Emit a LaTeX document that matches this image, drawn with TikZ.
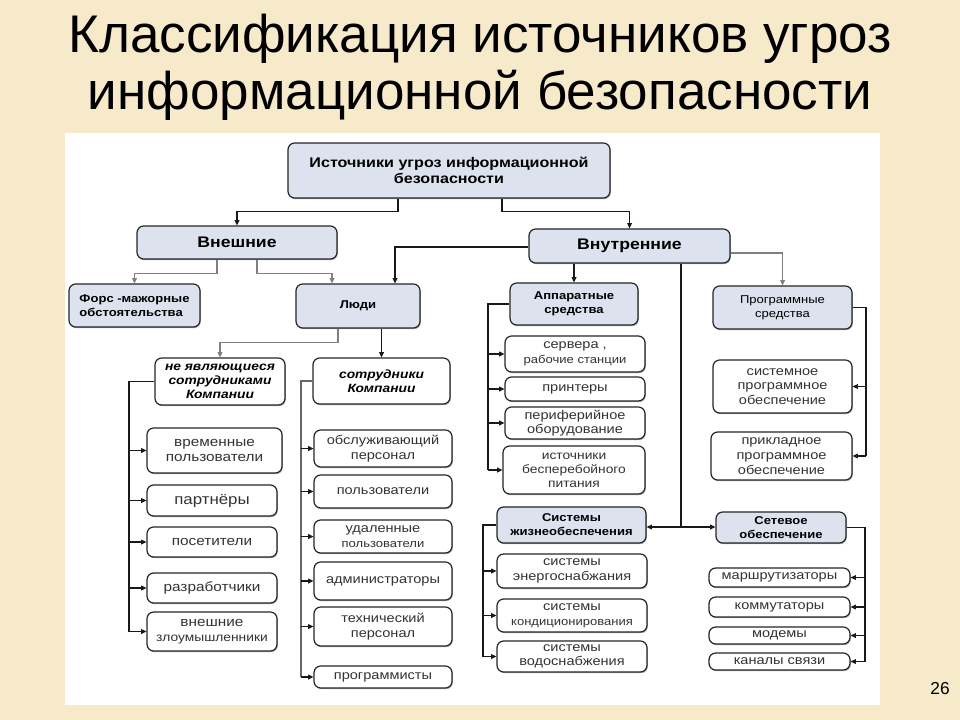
\documentclass[tikz,border=0pt]{standalone}
\usepackage{fontspec}
\setmainfont{Liberation Sans}
\newfontfamily\dgf[FakeStretch=1.15]{Liberation Sans}
\usetikzlibrary{arrows.meta,calc,shadows}
\definecolor{bgc}{HTML}{F6EACB}
\definecolor{hdrc}{HTML}{DCE3EE}
\begin{document}
\begin{tikzpicture}[x=0.75pt,y=-0.75pt,
  place/.style n args={4}{at={({(#1+#3)/2},{(#2+#4)/2})},minimum width={(#3-#1)*0.75pt},minimum height={(#4-#2)*0.75pt}},
  box/.style={rounded corners=5pt,draw=black!85,line width=0.9pt,align=center,inner sep=1pt,
    drop shadow={shadow xshift=0.6pt,shadow yshift=-0.9pt,fill=black!55,opacity=0.6}},
  hdrL/.style={box,fill=hdrc,font=\dgf\bfseries\fontsize{11.5}{13}\selectfont},
  hdrM/.style={box,fill=hdrc,font=\dgf\bfseries\fontsize{10.5}{12.5}\selectfont},
  hdrS/.style={box,fill=hdrc,font=\dgf\bfseries\fontsize{8.5}{10.5}\selectfont},
  grp/.style={box,fill=white,font=\dgf\bfseries\itshape\fontsize{9}{10.5}\selectfont},
  leaf/.style={box,fill=white,text=black!80,font=\dgf\fontsize{9.5}{11}\selectfont},
  leafL/.style={box,fill=white,text=black!80,font=\dgf\fontsize{10}{11.5}\selectfont},
  line/.style={draw=black!90,line width=0.9pt},
  conn/.style={line,-{Triangle[length=4pt,width=3.6pt]}},
  gconn/.style={conn,draw=black!50}]
\useasboundingbox (0,0) rectangle (960,720);
\fill[bgc] (0,0) rectangle (960,720);
\fill[white] (65,133) rectangle (880,705);

% title
\node (t1) [font=\fontsize{39.75}{44}\selectfont,anchor=base,inner sep=0pt] at (480,53) {Классификация источников угроз};
\node (t2) [font=\fontsize{39.75}{44}\selectfont,anchor=base,inner sep=0pt] at (480,110) {информационной безопасности};
\node (pg) [font=\fontsize{13}{15}\selectfont,anchor=base,inner sep=0pt] at (940,694) {26};

% headers
\node (top) [hdrM,place={288}{143}{610}{198}] {Источники угроз информационной\\безопасности};
\node (vn)  [hdrL,place={137}{226}{337}{259}] {Внешние};
\node (vin) [hdrL,place={529}{229}{730}{263}] {Внутренние};
\node (fm)  [hdrS,place={69}{284}{200}{327},align=left] {Форс -мажорные\\обстоятельства};
\node (ld)  [hdrS,place={296}{284}{420}{328}] {Люди};
\node (ne)  [grp,place={155}{358}{285}{405}] {не являющиеся\\сотрудниками\\Компании};
\node (so)  [grp,place={313}{358}{450}{404}] {сотрудники\\Компании};
\node (ap)  [hdrS,place={510}{283}{638}{325}] {Аппаратные\\средства};
\node (pr)  [hdrS,place={713}{286}{852}{329},font=\dgf\fontsize{8.5}{10.5}\selectfont] {Программные\\средства};
\node (sys) [hdrS,place={497}{507}{646}{543}] {Системы\\жизнеобеспечения};
\node (set) [hdrS,place={716}{512}{846}{543}] {Сетевое\\обеспечение};

% left column
\node (c1) [leafL,place={147}{428}{282}{473}] {временные\\пользователи};
\node (c2) [leafL,place={147}{485}{277}{516},font=\dgf\fontsize{11}{12}\selectfont] {партнёры};
\node (c3) [leafL,place={147}{527}{277}{557}] {посетители};
\node (c4) [leafL,place={147}{573}{277}{603}] {разработчики};
\node (c5) [leafL,place={147}{612}{277}{651}] {внешние\\{\fontsize{9}{10}\selectfont злоумышленники}};

% employees
\node (d1) [leaf,place={314}{430}{452}{467}] {обслуживающий\\персонал};
\node (d2) [leaf,place={314}{475}{452}{508}] {пользователи};
\node (d3) [leaf,place={314}{520}{452}{553}] {удаленные\\{\fontsize{8.5}{9.5}\selectfont пользователи}};
\node (d4) [leaf,place={314}{562}{452}{600}] {администраторы};
\node (d5) [leaf,place={314}{607}{452}{646}] {технический\\персонал};
\node (d6) [leaf,place={314}{666}{452}{688}] {программисты};

% hardware
\node (a1) [leaf,place={505}{336}{645}{372}] {сервера ,\\{\fontsize{8.5}{9.5}\selectfont рабочие станции}};
\node (a2) [leaf,place={505}{377}{645}{401}] {принтеры};
\node (a3) [leaf,place={505}{407}{645}{439}] {периферийное\\оборудование};
\node (a4) [leaf,place={503}{446}{645}{494},font=\dgf\fontsize{9}{10.5}\selectfont] {источники\\бесперебойного\\питания};

% life support
\node (e1) [leaf,place={497}{554}{647}{588}] {системы\\энергоснабжания};
\node (e2) [leaf,place={497}{599}{647}{632}] {системы\\{\fontsize{8.5}{9.5}\selectfont кондиционирования}};
\node (e3) [leaf,place={497}{641}{647}{672}] {системы\\водоснабжения};

% software
\node (s1) [leaf,place={713}{360}{852}{413}] {системное\\программное\\обеспечение};
\node (s2) [leaf,place={711}{432}{852}{480}] {прикладное\\программное\\обеспечение};

% network
\node (n1) [leaf,place={709}{568}{850}{587}] {маршрутизаторы};
\node (n2) [leaf,place={709}{597}{850}{617}] {коммутаторы};
\node (n3) [leaf,place={709}{627}{850}{644}] {модемы};
\node (n4) [leaf,place={709}{653}{850}{670}] {каналы связи};

% bus coordinates
\coordinate (bL) at (129,0);
\coordinate (bR) at (301,0);
\coordinate (bA) at (488,0);
\coordinate (bS) at (483,0);
\coordinate (bP) at (866,0);
\coordinate (bN) at (865,0);
\coordinate (mid) at (681,527);

% connectors
\draw[conn] ($(top.south)+(-51,0)$) -- ++(0,13) -| (vn.north);
\draw[conn] ($(top.south)+(53,0)$) -- ++(0,13) -| (vin.north);
\draw[gconn] ($(vn.south)+(-20,0)$) -- ++(0,14) -| (fm.north);
\draw[gconn] ($(vn.south)+(20,0)$) -- ++(0,14) -| ($(ld.north)+(-26,0)$);
\draw[conn] ($(vin.west)+(0,1)$) -| ($(ld.north)+(37,0)$);
\draw[gconn] ($(ld.south)+(-20,0)$) -- ++(0,14) -| (ne.north);
\draw[conn] (ld.south -| so.north) -- (so.north);

\draw[line] (ne.west) -| (bL |- c5.west);
\foreach \c in {c1,c2,c3,c4,c5} \draw[conn] (bL |- \c.west) -- (\c.west);
\draw[line,draw=black!60] (so.west) -| (bR |- d6.west);
\foreach \c in {d1,d2,d3,d4,d5,d6} \draw[conn] (bR |- \c.west) -- (\c.west);

\draw[conn] (vin.south -| ap.north) -- (ap.north);
\draw[line] (vin.south -| mid) -- (mid);
\draw[conn] (mid) -- (mid -| sys.east);
\draw[conn] (mid) -- (mid -| set.west);
\draw[gconn] ($(vin.east)+(0,7)$) -| (pr.north);

\draw[line] (ap.west) -| (bA |- a4.west);
\foreach \c in {a1,a2,a3,a4} \draw[conn] (bA |- \c.west) -- (\c.west);
\draw[line] (sys.west) -| (bS |- e3.west);
\foreach \c in {e1,e2,e3} \draw[conn] (bS |- \c.west) -- (\c.west);
\draw[line] (pr.east) -| (bP |- s2.east);
\foreach \c in {s1,s2} \draw[conn] (bP |- \c.east) -- (\c.east);
\draw[line] (set.east) -| (bN |- n4.east);
\foreach \c in {n1,n2,n3,n4} \draw[conn] (bN |- \c.east) -- (\c.east);
\end{tikzpicture}
\end{document}
